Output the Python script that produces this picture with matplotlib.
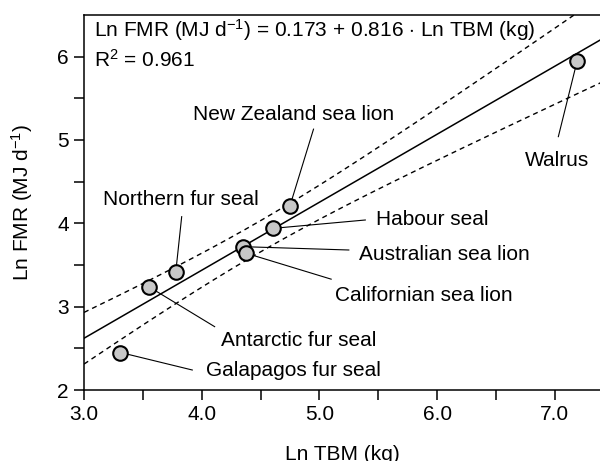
import matplotlib.pyplot as plt
import numpy as np

plt.rcParams['font.family'] = ['Liberation Sans', 'DejaVu Sans']
plt.rcParams['mathtext.fontset'] = 'custom'
plt.rcParams['mathtext.rm'] = 'Liberation Sans'
plt.rcParams['font.size'] = 15

# Данные: ln массы тела и ln FMR
species = ['Galapagos fur seal', 'Antarctic fur seal', 'Northern fur seal',
           'Australian sea lion', 'Californian sea lion', 'Habour seal',
           'New Zealand sea lion', 'Walrus']
ln_tbm = [3.31, 3.55, 3.78, 4.35, 4.38, 4.61, 4.75, 7.19]
ln_fmr = [2.45, 3.24, 3.42, 3.72, 3.64, 3.94, 4.21, 5.95]

# Регрессия из уравнения
intercept = 0.173
slope = 0.816
r2 = 0.961
t_crit = 2.447  # t(0.975, df=6)

# Положение подписей (x, y, ha) и начало выносных линий
label_pos = [(4.04, 2.24, 'left'), (4.16, 2.60, 'left'), (3.82, 4.29, 'center'),
             (5.34, 3.62, 'left'), (5.13, 3.13, 'left'), (5.48, 4.04, 'left'),
             (4.78, 5.30, 'center'), (7.02, 4.75, 'center')]
leader_start = [(3.92, 2.24), (4.11, 2.76), (3.83, 4.08),
                (5.25, 3.68), (5.10, 3.33), (5.39, 4.04),
                (4.95, 5.13), (7.03, 5.04)]

x = np.array(ln_tbm)
y = np.array(ln_fmr)
n = len(x)
resid = y - (intercept + slope * x)
s = np.sqrt(np.sum(resid ** 2) / (n - 2))
sxx = np.sum((x - x.mean()) ** 2)

fig = plt.figure(figsize=(6, 4.61), dpi=100)
ax = fig.add_axes([0.14, 0.154, 0.86, 0.8135])

xs = np.linspace(3.0, 7.4, 200)
fit = intercept + slope * xs
half = t_crit * s * np.sqrt(1 / n + (xs - x.mean()) ** 2 / sxx)

ax.plot(xs, fit, color='black', lw=1.1, zorder=2)
ax.plot(xs, fit + half, color='black', lw=1.0, dashes=(3.6, 2.9), zorder=2)
ax.plot(xs, fit - half, color='black', lw=1.0, dashes=(3.6, 2.9), zorder=2)

# Выносные линии и подписи
for i, name in enumerate(species):
    lx, ly = leader_start[i]
    ax.plot([lx, ln_tbm[i]], [ly, ln_fmr[i]], color='black', lw=0.8, zorder=3)
    tx, ty, ha = label_pos[i]
    ax.text(tx, ty, name, ha=ha, va='center', fontsize=15)

ax.scatter(ln_tbm, ln_fmr, s=110, facecolor='#c8c8c8', edgecolor='black',
           linewidth=1.5, zorder=4)

ax.text(0.02, 0.96,
        r'Ln FMR (MJ d$\mathregular{^{-1}}$) = 0.173 + 0.816 $\cdot$ Ln TBM (kg)',
        transform=ax.transAxes, ha='left', va='center', fontsize=15)
ax.text(0.02, 0.88, r'R$\mathregular{^2}$ = %.3f' % r2,
        transform=ax.transAxes, ha='left', va='center', fontsize=15)

ax.set_xlim(3.0, 7.384)
ax.set_ylim(2.0, 6.5)
ax.set_xticks(np.arange(3.0, 7.01, 0.5))
ax.set_xticklabels(['3.0', '', '4.0', '', '5.0', '', '6.0', '', '7.0'])
ax.set_yticks(np.arange(2.0, 6.01, 0.5))
ax.set_yticklabels(['2', '', '3', '', '4', '', '5', '', '6'])
ax.tick_params(direction='out', length=7, width=1.1, labelsize=15, pad=4)

ax.spines['right'].set_visible(False)
for sp in ['left', 'bottom', 'top']:
    ax.spines[sp].set_linewidth(1.1)

ax.set_xlabel('Ln TBM (kg)', fontsize=15, labelpad=15)
ax.set_ylabel(r'Ln FMR (MJ d$\mathregular{^{-1}}$)', fontsize=15, labelpad=16)

fig.savefig('out.png', dpi=100)
